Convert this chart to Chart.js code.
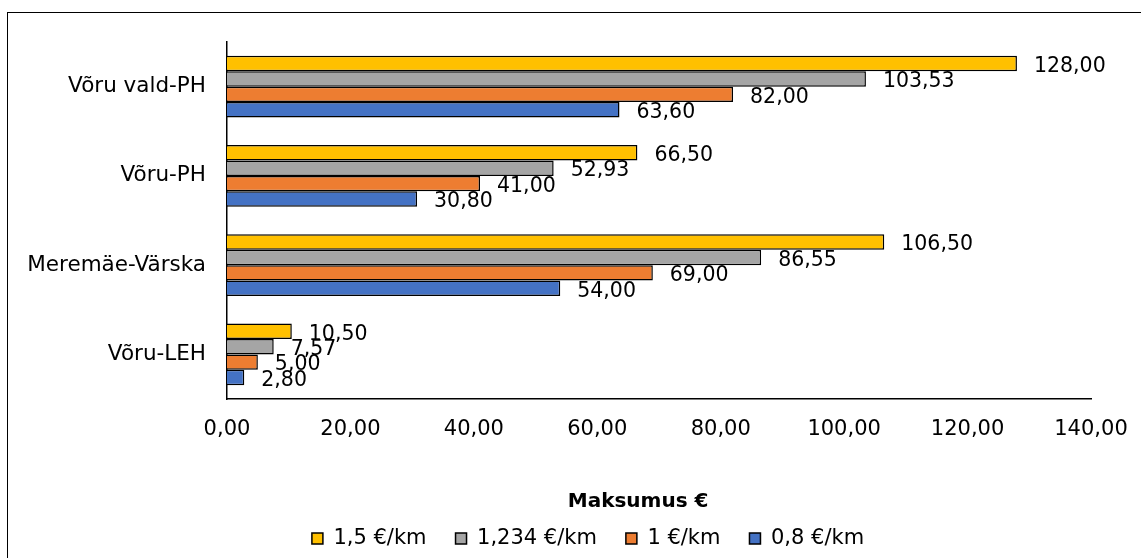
<!DOCTYPE html>
<html>
<head>
<meta charset="utf-8">
<script src="https://cdn.jsdelivr.net/npm/chart.js@4/dist/chart.umd.min.js"></script>
<style>
  body { margin: 0; background: #fff; overflow: hidden; }
  #wrap { position: relative; width: 1141px; height: 558px; }
  #frame { position: absolute; left: 7px; top: 12px; width: 1200px; height: 600px;
           border-left: 1.5px solid #000; border-top: 1.5px solid #000; }
  #chart { position: absolute; left: 0; top: 0; }
</style>
</head>
<body>
<div id="wrap">
  <div id="frame"></div>
  <canvas id="chart" width="1141" height="558"></canvas>
</div>
<script>
// routes, top to bottom
var routes = ["Võru vald-PH", "Võru-PH", "Meremäe-Värska", "Võru-LEH"];

// price per km
var rateNames = ["1,5 €/km", "1,234 €/km", "1 €/km", "0,8 €/km"];
var rate15 = [128.00, 66.50, 106.50, 10.50];
var rate1234 = [103.53, 52.93, 86.55, 7.57];
var rate1 = [82.00, 41.00, 69.00, 5.00];
var rate08 = [63.60, 30.80, 54.00, 2.80];

var xTicks = [0, 20, 40, 60, 80, 100, 120, 140];
var axisTitle = "Maksumus €";

var colors = ["#FFC000", "#A5A5A5", "#ED7D31", "#4472C4"];
var FONT = "'DejaVu Sans', Verdana, sans-serif";

function fmt(v) {
    return v.toFixed(2).replace(".", ",");
}

var series = [rate15, rate1234, rate1, rate08];
var datasets = series.map(function (vals, i) {
    return {
        label: rateNames[i],
        data: vals,
        backgroundColor: colors[i],
        borderColor: "#000",
        borderWidth: 1.5,
        borderSkipped: "start",
        categoryPercentage: 0.693,
        barPercentage: 1
    };
});

// value printed right of each bar
var valueLabels = {
    id: "valueLabels",
    afterDatasetsDraw: function (chart) {
        var ctx = chart.ctx;
        ctx.save();
        ctx.font = "20.5px " + FONT;
        ctx.fillStyle = "#000";
        ctx.textAlign = "left";
        ctx.textBaseline = "middle";
        chart.data.datasets.forEach(function (ds, i) {
            chart.getDatasetMeta(i).data.forEach(function (bar, j) {
                ctx.fillText(fmt(ds.data[j]), bar.x + 17, bar.y + 3);
            });
        });
        ctx.restore();
    }
};

// legend sits a bit right of the canvas centre
var legendShift = {
    id: "legendShift",
    afterLayout: function (chart) {
        chart.legend.left = 35;
    }
};

Chart.defaults.font.family = FONT;
Chart.defaults.color = "#000";

new Chart(document.getElementById("chart"), {
    type: "bar",
    data: { labels: routes, datasets: datasets },
    plugins: [valueLabels, legendShift],
    options: {
        indexAxis: "y",
        responsive: false,
        animation: false,
        devicePixelRatio: 1,
        layout: { padding: { top: 42, right: 0, bottom: -1, left: 0 } },
        scales: {
            x: {
                min: 0,
                max: 140,
                afterBuildTicks: function (scale) {
                    scale.ticks = xTicks.map(function (v) { return { value: v }; });
                },
                afterFit: function (scale) {
                    scale.height = 100;
                    scale.paddingRight = 50;
                },
                grid: { display: false, drawTicks: false },
                border: { display: true, color: "#000", width: 1.5 },
                ticks: {
                    padding: 18,
                    font: { size: 21 },
                    color: "#000",
                    maxRotation: 0,
                    callback: function (v) { return fmt(v); }
                },
                title: {
                    display: true,
                    text: axisTitle + "      ",
                    font: { size: 20, weight: "bold" },
                    color: "#000",
                    padding: { top: 0, bottom: -15 }
                }
            },
            y: {
                afterFit: function (scale) { scale.width = 227; },
                grid: { display: false, drawTicks: false },
                border: { display: true, color: "#000", width: 1.5 },
                ticks: { padding: 21, font: { size: 21.5 }, color: "#000" }
            }
        },
        plugins: {
            legend: {
                position: "bottom",
                labels: {
                    boxWidth: 11,
                    boxHeight: 11,
                    padding: 29,
                    font: { size: 21 },
                    color: "#000"
                }
            },
            tooltip: { enabled: false }
        }
    }
});
</script>
</body>
</html>
